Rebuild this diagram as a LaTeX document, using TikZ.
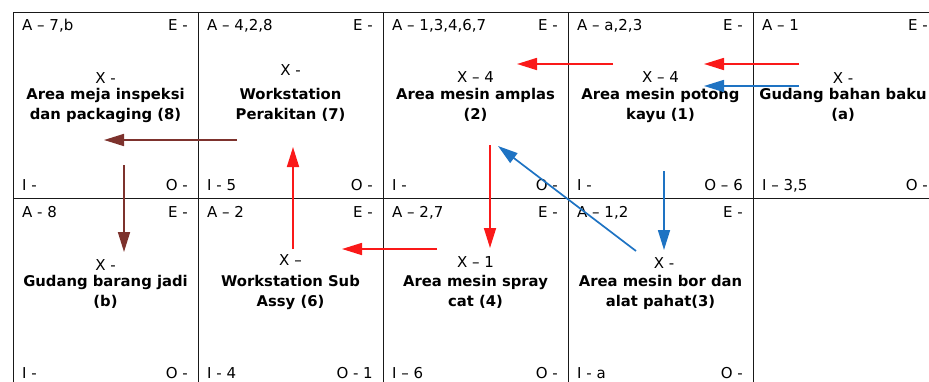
\documentclass[tikz,border=0pt]{standalone}
\usepackage{fontspec}
\setmainfont{DejaVu Sans}
\usetikzlibrary{arrows.meta}

\definecolor{merah}{RGB}{250,25,25}
\definecolor{biru}{RGB}{30,115,195}
\definecolor{coklat}{RGB}{125,50,45}

\begin{document}
\begin{tikzpicture}[
    x=1pt, y=-1pt,
    every node/.style={inner sep=0pt, font=\fontsize{15}{20}\selectfont}
]

\tikzset{
  sel/.style={draw=black!90, line width=0.9pt, minimum width=185pt, minimum height=186pt},
  kiri/.style={anchor=base west},
  kanan/.style={anchor=base east},
  tengah/.style={anchor=base},
  judul/.style={anchor=north, align=center, font=\fontsize{14.8}{20}\selectfont\bfseries},
  alur/.style={line width=1.7pt, -{Triangle[length=20pt,width=12pt]}}
}

\useasboundingbox (0,0) rectangle (929,381);
\clip (0,0) rectangle (929,381);

% ================= Sel =================

\node[sel] (s8) at (105.5,105) {};
\node[sel] (s7) at (290.5,105) {};
\node[sel] (s2) at (475.5,105) {};
\node[sel] (s1) at (660.5,105) {};
\node[sel] (sa) at (845.5,105) {};
\node[sel] (sb) at (105.5,291) {};
\node[sel] (s6) at (290.5,291) {};
\node[sel] (s4) at (475.5,291) {};
\node[sel] (s3) at (660.5,291) {};

% ================= Baris atas =================

\node[kiri]   (a8) at (22,30)     {A – 7,b};
\node[kanan]  (e8) at (188,30)    {E -};
\node[tengah] (x8) at (105.5,83)  {X -};
\node[judul]  (j8) at (105.5,88)  {Area meja inspeksi\\dan packaging (8)};
\node[kiri]   (i8) at (22,190)    {I -};
\node[kanan]  (o8) at (188,190)   {O -};

\node[kiri]   (a7) at (207,30)    {A – 4,2,8};
\node[kanan]  (e7) at (373,30)    {E -};
\node[tengah] (x7) at (290.5,75)  {X -};
\node[judul]  (j7) at (290.5,88)  {Workstation\\Perakitan (7)};
\node[kiri]   (i7) at (207,190)   {I - 5};
\node[kanan]  (o7) at (373,190)   {O -};

\node[kiri]   (a2) at (392,30)    {A – 1,3,4,6,7};
\node[kanan]  (e2) at (558,30)    {E -};
\node[tengah] (x2) at (475.5,82)  {X – 4};
\node[judul]  (j2) at (475.5,88)  {Area mesin amplas\\(2)};
\node[kiri]   (i2) at (392,190)   {I -};
\node[kanan]  (o2) at (558,190)   {O -};

\node[kiri]   (a1) at (577,30)    {A – a,2,3};
\node[kanan]  (e1) at (743,30)    {E -};
\node[tengah] (x1) at (660.5,82)  {X – 4};
\node[judul]  (j1) at (660.5,88)  {Area mesin potong\\kayu (1)};
\node[kiri]   (i1) at (577,190)   {I -};
\node[kanan]  (o1) at (743,190)   {O – 6};

\node[kiri]   (aa) at (762,30)    {A – 1};
\node[kanan]  (ea) at (928,30)    {E -};
\node[tengah] (xa) at (843,83)    {X -};
\node[judul]  (ja) at (843,88)    {Gudang bahan baku\\(a)};
\node[kiri]   (ia) at (762,190)   {I – 3,5};
\node[kanan]  (oa) at (928,190)   {O -};

% ================= Baris bawah =================

\node[kiri]   (ab) at (22,217)    {A - 8};
\node[kanan]  (eb) at (188,217)   {E -};
\node[tengah] (xb) at (105.5,270) {X -};
\node[judul]  (jb) at (105.5,275) {Gudang barang jadi\\(b)};
\node[kiri]   (ib) at (22,378)    {I -};
\node[kanan]  (ob) at (188,378)   {O -};

\node[kiri]   (a6) at (207,217)   {A – 2};
\node[kanan]  (e6) at (373,217)   {E -};
\node[tengah] (x6) at (290.5,265) {X –};
\node[judul]  (j6) at (290.5,275) {Workstation Sub\\Assy (6)};
\node[kiri]   (i6) at (207,378)   {I - 4};
\node[kanan]  (o6) at (373,378)   {O - 1};

\node[kiri]   (a4) at (392,217)   {A – 2,7};
\node[kanan]  (e4) at (558,217)   {E -};
\node[tengah] (x4) at (475.5,267) {X – 1};
\node[judul]  (j4) at (475.5,275) {Area mesin spray\\cat (4)};
\node[kiri]   (i4) at (392,378)   {I – 6};
\node[kanan]  (o4) at (558,378)   {O -};

\node[kiri]   (a3) at (577,217)   {A – 1,2};
\node[kanan]  (e3) at (743,217)   {E -};
\node[tengah] (x3) at (664,268)   {X -};
\node[judul]  (j3) at (660.5,275) {Area mesin bor dan\\alat pahat(3)};
\node[kiri]   (i3) at (577,378)   {I - a};
\node[kanan]  (o3) at (743,378)   {O -};

% ================= Alur =================

\coordinate (pa1) at (799,64);  \coordinate (p1a) at (704,64);
\coordinate (qa1) at (799,86);  \coordinate (q1a) at (704,86);
\coordinate (p12) at (613,64);  \coordinate (p21) at (517,64);
\coordinate (p24) at (490,145); \coordinate (p42) at (490,248);
\coordinate (p46) at (437,249); \coordinate (p64) at (342,249);
\coordinate (p67) at (293,249); \coordinate (p76) at (293,147);
\coordinate (p78) at (237,140); \coordinate (p87) at (104,140);
\coordinate (p8b) at (124,165); \coordinate (pb8) at (124,252);
\coordinate (p13) at (664,171); \coordinate (p31) at (664,250);
\coordinate (p32) at (636,251); \coordinate (p23) at (498,146);

\draw[alur, merah]  (pa1)--(p1a);
\draw[alur, biru]   (qa1)--(q1a);
\draw[alur, merah]  (p12)--(p21);
\draw[alur, merah]  (p24)--(p42);
\draw[alur, merah]  (p46)--(p64);
\draw[alur, merah]  (p67)--(p76);
\draw[alur, coklat] (p78)--(p87);
\draw[alur, coklat] (p8b)--(pb8);
\draw[alur, biru]   (p13)--(p31);
\draw[alur, biru]   (p32)--(p23);

\end{tikzpicture}
\end{document}
